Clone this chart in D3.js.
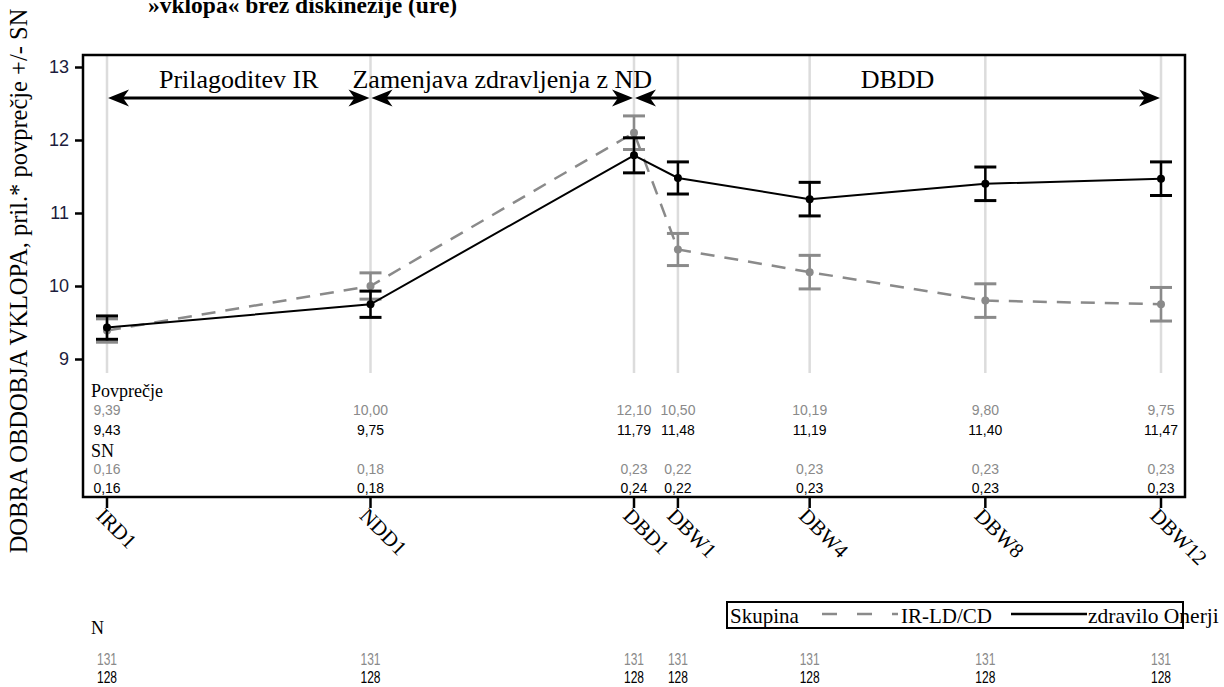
<!DOCTYPE html>
<html>
<head>
<meta charset="utf-8">
<script src="https://cdn.jsdelivr.net/npm/d3@7"></script>
<style>
  body { margin: 0; background: #fff; }
  svg { display: block; }
  .serif { font-family: "Liberation Serif", "Times New Roman", serif; }
  .sans { font-family: "Liberation Sans", Arial, sans-serif; }
</style>
</head>
<body>
<div id="chart"></div>
<script>
// visits and their position on the time axis (weeks relative to DBD1)
const visits = ["IRD1", "NDD1", "DBD1", "DBW1", "DBW4", "DBW8", "DBW12"];
const visitWeeks = [-12, -6, 0, 1, 4, 8, 12];

// group IR-LD/CD (grey, dashed)
const meanIR = [9.39, 10.0, 12.1, 10.5, 10.19, 9.8, 9.75];
const sdIR = [0.16, 0.18, 0.23, 0.22, 0.23, 0.23, 0.23];
const nIR = [131, 131, 131, 131, 131, 131, 131];

// group zdravilo Onerji (black, solid)
const meanOn = [9.43, 9.75, 11.79, 11.48, 11.19, 11.4, 11.47];
const sdOn = [0.16, 0.18, 0.24, 0.22, 0.23, 0.23, 0.23];
const nOn = [128, 128, 128, 128, 128, 128, 128];

const yTicks = [9, 10, 11, 12, 13];

// study phases shown with arrows on top (start / end visit index)
const phaseLabels = ["Prilagoditev IR", "Zamenjava zdravljenja z ND", "DBDD"];
const phaseFrom = [0, 1, 2];
const phaseTo = [1, 2, 6];

const grey = "#8a8a8a";
const W = 1224, H = 687;
const frame = { left: 83, right: 1185, top: 55, bottom: 497 };

const locale = d3.formatLocale({ decimal: ",", thousands: ".", grouping: [3], currency: ["", "€"] });
const fmt = locale.format(".2f");

const svg = d3.select("#chart").append("svg").attr("width", W).attr("height", H);

const x = d3.scaleLinear().domain([-12, 12]).range([107, 1161]);
const y = d3.scaleLinear().domain([9, 13]).range([359, 67]);
const yBottom = 373;

// title, cut at the top edge
svg.append("text")
  .attr("class", "serif")
  .attr("x", 148).attr("y", 13)
  .attr("font-size", 23.5).attr("font-weight", "bold")
  .text("»vklopa« brez diskinezije (ure)");

// y axis title
svg.append("text")
  .attr("class", "serif")
  .attr("transform", `translate(27, 281) rotate(-90)`)
  .attr("text-anchor", "middle")
  .attr("font-size", 24.5)
  .text("DOBRA OBDOBJA VKLOPA, pril.* povprečje +/- SN");

// vertical reference lines
svg.append("g").selectAll("line")
  .data(visitWeeks)
  .join("line")
  .attr("x1", (d) => x(d)).attr("x2", (d) => x(d))
  .attr("y1", frame.top).attr("y2", yBottom)
  .attr("stroke", "#dcdcdc").attr("stroke-width", 2.5);

// y axis ticks
const yAxis = d3.axisLeft(y).tickValues(yTicks).tickSize(8).tickPadding(6)
  .tickFormat(d3.format("d"));
const gy = svg.append("g")
  .attr("transform", `translate(${frame.left}, 0)`)
  .call(yAxis);
gy.select(".domain").remove();
gy.selectAll(".tick line").attr("stroke", "#000").attr("stroke-width", 2.5);
gy.selectAll(".tick text")
  .attr("class", "sans")
  .attr("font-size", 18)
  .attr("fill", "#1c1c3c");

// x axis ticks and rotated labels
const xg = svg.append("g");
xg.selectAll("line")
  .data(visitWeeks)
  .join("line")
  .attr("x1", (d) => x(d)).attr("x2", (d) => x(d))
  .attr("y1", frame.bottom).attr("y2", frame.bottom + 11)
  .attr("stroke", "#000").attr("stroke-width", 2.5);
xg.selectAll("text")
  .data(visits)
  .join("text")
  .attr("class", "serif")
  .attr("font-size", 21)
  .attr("transform", (d, i) => `translate(${x(visitWeeks[i]) - 12}, ${frame.bottom + 20}) rotate(45)`)
  .text((d) => d);

// phase arrows
const arrowY = 98;
const head = "M0,0 L-21,-8.5 L-15,0 L-21,8.5 Z";
const phases = svg.append("g");
phaseLabels.forEach((label, i) => {
  const x0 = x(visitWeeks[phaseFrom[i]]) + 1;
  const x1 = x(visitWeeks[phaseTo[i]]) - 1;
  phases.append("line")
    .attr("x1", x0 + 8).attr("x2", x1 - 8)
    .attr("y1", arrowY).attr("y2", arrowY)
    .attr("stroke", "#000").attr("stroke-width", 3);
  phases.append("path").attr("d", head)
    .attr("transform", `translate(${x1}, ${arrowY})`);
  phases.append("path").attr("d", head)
    .attr("transform", `translate(${x0}, ${arrowY}) rotate(180)`);
  phases.append("text")
    .attr("class", "serif")
    .attr("x", (x0 + x1) / 2).attr("y", arrowY - 10)
    .attr("text-anchor", "middle")
    .attr("font-size", 26)
    .text(label);
});

// series
const series = [
  { mean: meanIR, sd: sdIR, color: grey, dash: "14,10", width: 2.5 },
  { mean: meanOn, sd: sdOn, color: "#000", dash: null, width: 2 },
];

const line = d3.line()
  .x((d) => x(d[0]))
  .y((d) => y(d[1]));

series.forEach((s) => {
  const g = svg.append("g");
  const pts = visitWeeks.map((w, i) => [w, s.mean[i], s.sd[i]]);
  g.append("path")
    .attr("d", line(pts))
    .attr("fill", "none")
    .attr("stroke", s.color)
    .attr("stroke-width", s.width)
    .attr("stroke-dasharray", s.dash);
  const bars = g.selectAll(".eb").data(pts).join("g").attr("class", "eb");
  bars.append("line")
    .attr("x1", (d) => x(d[0])).attr("x2", (d) => x(d[0]))
    .attr("y1", (d) => y(d[1] - d[2])).attr("y2", (d) => y(d[1] + d[2]))
    .attr("stroke", s.color).attr("stroke-width", 2.5);
  [-1, 1].forEach((k) => {
    bars.append("line")
      .attr("x1", (d) => x(d[0]) - 11).attr("x2", (d) => x(d[0]) + 11)
      .attr("y1", (d) => y(d[1] + k * d[2])).attr("y2", (d) => y(d[1] + k * d[2]))
      .attr("stroke", s.color).attr("stroke-width", 3);
  });
  bars.append("circle")
    .attr("cx", (d) => x(d[0])).attr("cy", (d) => y(d[1]))
    .attr("r", 4).attr("fill", s.color);
});

// inset table: means and SD
const table = svg.append("g");
table.append("text").attr("class", "serif").attr("font-size", 18)
  .attr("x", 91).attr("y", 397).text("Povprečje");
table.append("text").attr("class", "serif").attr("font-size", 18)
  .attr("x", 91).attr("y", 457).text("SN");

const rows = [
  { vals: meanIR, yy: 415, color: grey },
  { vals: meanOn, yy: 435, color: "#000" },
  { vals: sdIR, yy: 474, color: grey },
  { vals: sdOn, yy: 493, color: "#000" },
];
rows.forEach((r) => {
  table.append("g").selectAll("text")
    .data(r.vals)
    .join("text")
    .attr("class", "sans")
    .attr("font-size", 14)
    .attr("text-anchor", "middle")
    .attr("fill", r.color)
    .attr("x", (d, i) => x(visitWeeks[i]))
    .attr("y", r.yy)
    .text((d) => fmt(d));
});

// frame
svg.append("rect")
  .attr("x", frame.left).attr("y", frame.top)
  .attr("width", frame.right - frame.left)
  .attr("height", frame.bottom - frame.top)
  .attr("fill", "none").attr("stroke", "#000").attr("stroke-width", 2.5);

// N table below (condensed figures)
svg.append("text").attr("class", "serif").attr("font-size", 18)
  .attr("x", 91).attr("y", 634).text("N");
[{ vals: nIR, yy: 665, color: grey }, { vals: nOn, yy: 683, color: "#000" }].forEach((r) => {
  svg.append("g").selectAll("text")
    .data(r.vals)
    .join("text")
    .attr("class", "sans")
    .attr("font-size", 15)
    .attr("text-anchor", "middle")
    .attr("fill", r.color)
    .attr("transform", (d, i) => `translate(${x(visitWeeks[i])}, ${r.yy}) scale(0.8, 1.05)`)
    .text((d) => d);
});

// legend
const legend = svg.append("g");
legend.append("rect")
  .attr("x", 727).attr("y", 602).attr("width", 456).attr("height", 26)
  .attr("fill", "#fff").attr("stroke", "#000").attr("stroke-width", 2);
legend.append("text").attr("class", "serif").attr("font-size", 21)
  .attr("x", 730).attr("y", 623).text("Skupina");
legend.append("line")
  .attr("x1", 822).attr("x2", 898).attr("y1", 614).attr("y2", 614)
  .attr("stroke", grey).attr("stroke-width", 2.5).attr("stroke-dasharray", "15,20");
legend.append("text").attr("class", "serif").attr("font-size", 21)
  .attr("x", 901).attr("y", 623).text("IR-LD/CD");
legend.append("line")
  .attr("x1", 1011).attr("x2", 1087).attr("y1", 614).attr("y2", 614)
  .attr("stroke", "#000").attr("stroke-width", 2.5);
legend.append("text").attr("class", "serif").attr("font-size", 21.5)
  .attr("x", 1088).attr("y", 623).text("zdravilo Onerji");
</script>
</body>
</html>
